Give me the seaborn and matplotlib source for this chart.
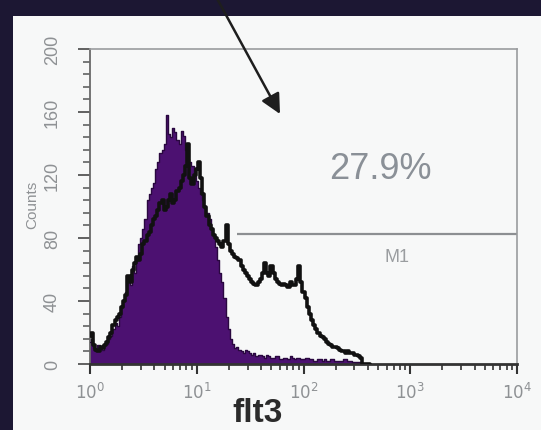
import numpy as np
import pandas as pd
import matplotlib
matplotlib.use("Agg")
import matplotlib.pyplot as plt
import seaborn as sns
from matplotlib.patches import Rectangle
from matplotlib.ticker import FixedLocator, MultipleLocator, LogLocator, NullFormatter

# channel positions (log10 of fluorescence), one value per channel group
log_channel = [round(0.02 * i, 2) for i in range(132)]

# isotype control histogram (filled)
control_counts = [14, 16, 10, 8, 12, 10, 9, 12, 13, 16,
                  18, 22, 26, 24, 30, 36, 40, 46, 52, 50,
                  62, 58, 68, 76, 80, 86, 92, 104, 108, 112,
                  115, 124, 128, 134, 136, 140, 158, 146, 144, 150,
                  147, 142, 140, 148, 145, 136, 130, 128, 126, 120,
                  116, 112, 108, 104, 100, 96, 92, 86, 82, 74,
                  66, 58, 52, 42, 30, 22, 16, 13, 10, 11,
                  9, 8, 7, 9, 8, 7, 6, 7, 5, 6,
                  6, 5, 4, 6, 5, 4, 4, 5, 5, 3,
                  3, 4, 4, 3, 5, 4, 3, 4, 4, 3,
                  3, 4, 4, 3, 3, 2, 2, 3, 3, 2,
                  3, 2, 2, 3, 3, 2, 2, 2, 2, 3,
                  3, 2, 2, 1, 1, 1, 1, 1, 0, 0,
                  0, 0]

# flt3 stained histogram (outline)
flt3_counts = [18, 20, 12, 9, 8, 11, 10, 12, 14, 17,
               20, 25, 28, 30, 32, 36, 40, 44, 56, 52,
               60, 64, 68, 66, 70, 76, 78, 82, 84, 88,
               92, 94, 98, 102, 104, 98, 100, 104, 108, 102,
               104, 110, 112, 116, 120, 126, 140, 118, 114, 120,
               124, 128, 118, 108, 100, 94, 88, 86, 82, 80,
               78, 76, 74, 78, 88, 76, 72, 70, 68, 67,
               66, 62, 60, 58, 56, 54, 52, 51, 50, 52,
               54, 58, 64, 58, 56, 62, 58, 54, 52, 51,
               50, 51, 50, 49, 52, 50, 50, 54, 62, 52,
               46, 42, 36, 32, 28, 25, 22, 20, 18, 17,
               16, 14, 13, 12, 11, 11, 10, 9, 8, 8,
               7, 8, 7, 7, 6, 6, 5, 4, 0, 0,
               0, 0]

y_ticks = [0, 40, 80, 120, 160, 200]
x_decades = [1, 10, 100, 1000, 10000]
x_tick_labels = [r"$10^{0}$", r"$10^{1}$", r"$10^{2}$", r"$10^{3}$", r"$10^{4}$"]

gate_start, gate_end, gate_level = 24, 10000, 82.5
gate_label = "M1"
gate_percent = "27.9%"

df = pd.DataFrame({
    "fluor": [10 ** v for v in log_channel],
    "control": control_counts,
    "flt3": flt3_counts,
})

W, H, DPI = 541, 431, 100
sns.set_style("white")
plt.rcParams["font.family"] = ["Liberation Sans", "DejaVu Sans"]

fig = plt.figure(figsize=(W / DPI, H / DPI), dpi=DPI)
fig.patch.set_facecolor("#1c1733")
fig.patches.append(Rectangle((13 / W, 0), 1 - 13 / W, 1 - 17 / H,
                             transform=fig.transFigure, facecolor="#f7f8f8",
                             edgecolor="none", zorder=-10))

ax = fig.add_axes([90 / W, 1 - 365 / H, (517 - 90) / W, (365 - 50) / H])
ax.set_facecolor("#f7f8f8")

purple = "#4c1171"
ax.fill_between(df["fluor"], df["control"], step="mid", color=purple,
                linewidth=0, zorder=2)
sns.lineplot(data=df, x="fluor", y="control", drawstyle="steps-mid",
             color="#2a0840", linewidth=1.0, ax=ax, zorder=3)
sns.lineplot(data=df, x="fluor", y="flt3", drawstyle="steps-mid",
             color="#111111", linewidth=2.6, ax=ax, zorder=4)

ax.set_xscale("log")
ax.set_xlim(1, 10000)
ax.set_ylim(0, 200)

# marker gate
ax.hlines(gate_level, gate_start, gate_end, color="#8c8f92", linewidth=1.6, zorder=1)
ax.text(751, 68, gate_label, color="#9a9da0", fontsize=13, ha="center", va="center")
ax.text(521, 124, gate_percent, color="#8a9097", fontsize=26, ha="center", va="center")

# axes frame
for side in ["top", "right"]:
    ax.spines[side].set_color("#9a9c9e")
    ax.spines[side].set_linewidth(1.2)
ax.spines["left"].set_color("#6a6a6a")
ax.spines["left"].set_linewidth(1.3)
ax.spines["bottom"].set_color("#333333")
ax.spines["bottom"].set_linewidth(2.0)

ax.yaxis.set_major_locator(FixedLocator(y_ticks))
ax.yaxis.set_minor_locator(MultipleLocator(8))
ax.set_yticklabels([str(v) for v in y_ticks], rotation=90, va="center")
ax.xaxis.set_major_locator(FixedLocator(x_decades))
ax.set_xticklabels(x_tick_labels)
ax.xaxis.set_minor_locator(LogLocator(base=10, subs=np.arange(2, 10), numticks=20))
ax.xaxis.set_minor_formatter(NullFormatter())

ax.tick_params(which="both", left=True, bottom=True, top=False, right=False)
ax.tick_params(axis="y", which="major", direction="out", length=9, width=1.3,
               color="#555555", labelcolor="#8e9194", labelsize=13, pad=12)
ax.tick_params(axis="y", which="minor", direction="out", length=5, width=1.1,
               color="#555555")
ax.tick_params(axis="x", which="major", direction="out", length=7, width=1.5,
               color="#333333", labelcolor="#8e9194", labelsize=12, pad=5)
ax.tick_params(axis="x", which="minor", direction="out", length=4, width=1.2,
               color="#333333")
ax.set_xlabel("")
ax.set_ylabel("")

fig.text(32 / W, 1 - 205 / H, "Counts", rotation=90, ha="center", va="center",
         color="#8e9194", fontsize=11)
fig.text(258 / W, 1 - 414 / H, "flt3", ha="center", va="center",
         color="#2b2b2b", fontsize=24, fontweight="bold")

# pointer arrow
ax.annotate("", xy=(280, H - 115), xycoords="figure pixels",
            xytext=(214, H + 6), textcoords="figure pixels",
            arrowprops=dict(arrowstyle="-|>", color="#1e1e1e", lw=1.8,
                            mutation_scale=30, shrinkA=0, shrinkB=0),
            annotation_clip=False)

fig.savefig("out.png", dpi=DPI, facecolor=fig.get_facecolor())
